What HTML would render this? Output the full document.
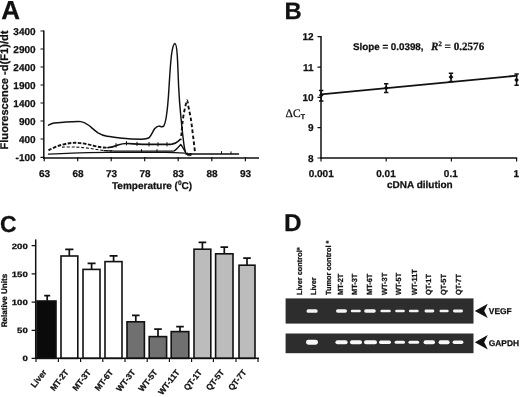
<!DOCTYPE html>
<html>
<head>
<meta charset="utf-8">
<title>Figure</title>
<style>
html,body{margin:0;padding:0;background:#fff;}
body{width:520px;height:397px;overflow:hidden;}
svg{display:block;}
text{font-family:"Liberation Sans",Arial,sans-serif;font-weight:bold;fill:#111;text-rendering:geometricPrecision;stroke:#111;stroke-width:0.25px;}
.pl{font-size:25.5px;}
.t10{font-size:10px;}
.t8{font-size:7.7px;}
.ser{font-family:"Liberation Serif","Times New Roman",serif;}
</style>
</head>
<body>
<svg width="520" height="397" viewBox="0 0 520 397">
<rect width="520" height="397" fill="#fff"/>

<!-- ================= Panel A ================= -->
<g id="panelA">
<text class="pl" x="1.2" y="19.3" style="font-size:26px">A</text>
<!-- axes -->
<g stroke="#111" stroke-width="1.5" fill="none">
<path d="M43.8 30.5V158.4"/>
<path d="M43 157.9H259"/>
</g>
<g stroke="#111" stroke-width="1.2" fill="none">
<path d="M40.5 31H44M40.5 49H44M40.5 67H44M40.5 85H44M40.5 103H44M40.5 121H44M40.5 139H44M40.5 157.4H44"/>
<path d="M44.2 157V161.2M77.7 157V161.2M111.2 157V161.2M144.7 157V161.2M178.2 157V161.2M211.8 157V161.2M245.4 157V161.2"/>
</g>
<g class="t10" text-anchor="end">
<text x="35.6" y="34.5">3400</text>
<text x="35.6" y="52.5">2900</text>
<text x="35.6" y="70.5">2400</text>
<text x="35.6" y="88.5">1900</text>
<text x="35.6" y="106.5">1400</text>
<text x="35.6" y="124.5">900</text>
<text x="35.6" y="142.5">400</text>
<text x="35.6" y="160.8">-100</text>
</g>
<g class="t10" text-anchor="middle">
<text x="44.5" y="177.3">63</text>
<text x="78" y="177.3">68</text>
<text x="111.5" y="177.3">73</text>
<text x="145" y="177.3">78</text>
<text x="178.3" y="177.3">83</text>
<text x="212" y="177.3">88</text>
<text x="245.6" y="177.3">93</text>
</g>
<text class="t10" x="112" y="188.8" style="font-size:10px">Temperature (<tspan dy="-3.8" style="font-size:6.5px">0</tspan><tspan dy="3.8">C)</tspan></text>
<text class="t10" transform="translate(7.7,90) rotate(-90)" text-anchor="middle" style="font-size:11.1px">Fluorescence -d(F1)/dt</text>

<!-- curves -->
<g fill="none" stroke="#111" stroke-linejoin="round" stroke-linecap="round">
<!-- curve 1 : big solid peak -->
<path stroke-width="1.45" d="M48.5 125.2C50.5 124 52.5 123.2 54 123C58 122.6 62 122.2 66 122C71 121.7 76 121.5 81 121.6C84 122 86.5 123.6 89 125.5C92 128 95 130.8 98 132.8C101 134.6 104 135.8 107 136.3C111 136.9 115 137.4 120 138C128 138.8 136 139.2 141.5 139.2C145 139.2 147.5 138.8 149.2 137.7C151.6 135 153 131 154.6 128.8C156 127.2 157.4 126.2 158.8 126.1C160 126 161 126.9 162 126.8C162.8 126.7 163.3 126.6 163.8 126C164.8 124.2 165.5 121.5 166.1 118C167.3 111 168.3 100 169.1 86C169.8 74 170.6 62 171.6 54C172.5 48 173.6 43.6 174.9 43.5C176 43.6 176.8 48 177.3 56C177.8 64 178.2 76 178.6 86C179.2 98 180 108 180.8 116C181.6 125 182.6 134 183.6 142C184.2 147 185 151.5 186.2 153.6C187.5 155 189 154.2 191 153.8"/>
<!-- baseline after peaks -->
<path stroke-width="1.5" d="M186 154.1C195 153.8 205 154.1 215 154C222 153.8 230 154.1 238.5 153.9"/>
<path stroke-width="1" d="M221.5 153.6V151.6M231 153.6V151.8M187.5 153V155.3C189 156 191 155.8 192 154.5"/>
<!-- curve 2 : heavy dashed then solid -->
<path stroke-width="1.9" stroke-dasharray="3.6 1.5" stroke-linecap="butt" d="M48.5 150.4C52 148.2 57 146.2 62 144.8C67 143.4 72 142.7 76 142.8C82 143 88 144.2 94 145.8C99 147.2 104 147.8 108 147.6"/>
<path stroke-width="1.7" d="M108 147.6C112 147.4 115 146.2 118 145C121 144 124 143.4 127 143.5C134 143.8 142 144.4 150 144.4C158 144.5 166 144.6 172 144.1C175 143.6 177 142.5 178.5 141C179.5 139.8 180.3 139.2 180.8 139.4"/>
<path stroke-width="1" d="M116 147.2V143.6M126.5 145V141.6M137 145.5V142.2M149 146V142.4M158 146V142.6M167 146V142.6"/>
<!-- curve 3 : thin dashed then solid -->
<path stroke-width="1.1" stroke-dasharray="3 1.8" stroke-linecap="butt" d="M62 147.1C66 146.9 72 146.9 76 147.1C84 147.4 92 148.6 100 150C104 150.6 108 150.8 112 150.9"/>
<path stroke-width="1.3" d="M104 150.6C112 151 122 151.1 132 151.1C144 151.2 156 151.2 166 151.1C170 151.1 172.5 151.4 174.3 150.9C176.4 149.6 179 146.4 180.8 144.5C182.2 146 183.6 149.5 185.4 151.8"/>
<path stroke-width="1" d="M141.5 152V149.6M157 152V149.6"/>
<!-- curve 4 : lower solid -->
<path stroke-width="1.3" d="M48.5 154.2C56 153.8 64 153.4 72 153.1C84 152.6 96 152.4 107 152.3C125 152.3 145 152.3 165 152.3C172 152.4 178 152.7 185 153.2"/>
<!-- dashed peak -->
<path stroke-width="1.9" stroke-dasharray="3.6 2.4" stroke-linecap="butt" d="M181.3 136C181.7 130 182.3 122.7 183.8 113.5C184.4 110.5 185.2 107 185.9 104C186.3 101.8 186.7 100.3 187 100.3C187.4 100.3 187.8 102.5 188.5 107C189.2 110.5 189.8 113.2 190.3 115.8C190.8 118.5 191.2 121 191.5 123.5C192 127 192.4 130.5 192.8 134.2C193.2 137 193.5 139.5 193.8 141.9C194.3 146 194.7 149.5 195 152.4"/>
</g>
</g>

<!-- ================= Panel B ================= -->
<g id="panelB">
<text class="pl" x="284.4" y="18.8" style="font-size:23.8px">B</text>
<g stroke="#111" stroke-width="1.5" fill="none">
<path d="M321 36V158.8"/>
<path d="M320.3 158H517.2"/>
</g>
<g stroke="#111" stroke-width="1.2" fill="none">
<path d="M317.5 36.6H321M317.5 67.2H321M317.5 97.4H321M317.5 127.6H321M317.5 158H321"/>
<path d="M321 158V161.4M386.2 158V161.4M451.4 158V161.4M516.6 158V161.4"/>
</g>
<g class="t10" text-anchor="end">
<text x="313.5" y="40.2">12</text>
<text x="313.5" y="70.8">11</text>
<text x="313.5" y="101">10</text>
<text x="313.5" y="131.2">9</text>
<text x="313.5" y="161.6">8</text>
</g>
<g class="t10" text-anchor="middle">
<text x="321.2" y="177.2">0.001</text>
<text x="386" y="177.2">0.01</text>
<text x="450.8" y="177.2">0.1</text>
<text x="516.2" y="177.2">1</text>
</g>
<text x="387" y="187.6" style="font-size:10px">cDNA dilution</text>
<text x="353" y="49.8" style="font-size:9.8px">Slope = 0.0398,</text>
<text class="ser" x="431" y="49.8" style="font-size:11.1px"><tspan style="font-style:italic">R</tspan><tspan dy="-4" style="font-size:6.8px">2</tspan><tspan dy="4"> = 0.2576</tspan></text>
<text class="ser" x="285.6" y="117.2" style="font-size:11.5px;font-weight:normal">ΔC<tspan dy="1.8" style="font-size:7px;font-weight:bold;font-family:'Liberation Sans',Arial,sans-serif">T</tspan></text>
<!-- regression line -->
<path d="M321 94.4L517.5 75.6" stroke="#111" stroke-width="1.8" fill="none"/>
<!-- points with error bars -->
<g stroke="#111" stroke-width="1.5" fill="#111">
<path d="M321.2 90.6V101M319 90.6H323.4M319 101H323.4"/>
<path d="M386.2 83.8V92.4M384 83.8H388.4M384 92.4H388.4"/>
<path d="M451 73.2V81.6M448.8 73.2H453.2M448.8 81.6H453.2"/>
<path d="M516.6 74V85.2M514.4 74H518.8M514.4 85.2H518.8"/>
<path stroke="none" d="M321.2 92.6l2.3 2.6-2.3 2.6-2.3-2.6zM386.2 85.4l2.3 2.6-2.3 2.6-2.3-2.6zM451 74.4l2.4 2.7-2.4 2.7-2.4-2.7zM516.6 77.4l2.3 2.6-2.3 2.6-2.3-2.6z"/>
</g>
</g>

<!-- ================= Panel C ================= -->
<g id="panelC">
<text class="pl" x="0" y="231.5" style="font-size:23px">C</text>
<!-- bars -->
<g stroke="#111" stroke-width="1.6">
<rect x="37" y="301.0" width="19" height="57.4" fill="#0a0a0a"/>
<rect x="61" y="256.0" width="16.8" height="102.4" fill="#fff"/>
<rect x="83" y="269.4" width="17" height="89.0" fill="#fff"/>
<rect x="105" y="261.6" width="17" height="96.8" fill="#fff"/>
<rect x="127" y="321.8" width="17.4" height="36.6" fill="#707070"/>
<rect x="149.2" y="336.6" width="17.4" height="21.8" fill="#707070"/>
<rect x="171.2" y="331.6" width="17.6" height="26.8" fill="#707070"/>
<rect x="194" y="249.2" width="16.8" height="109.2" fill="#bcbcbc"/>
<rect x="215.6" y="253.8" width="17.4" height="104.6" fill="#bcbcbc"/>
<rect x="239" y="265.2" width="16" height="93.2" fill="#bcbcbc"/>
</g>
<!-- error bars -->
<g stroke="#111" stroke-width="1.7" fill="none">
<path d="M47.2 301V295.6M44.2 295.6H50.2"/>
<path d="M69.3 256V249.4M65.2 249.4H73.4"/>
<path d="M91.6 269.4V263.4M87.6 263.4H95.6"/>
<path d="M113.6 261.6V255.8M109.6 255.8H117.6"/>
<path d="M135.8 321.8V315.4M132 315.4H139.6"/>
<path d="M158 336.6V329.2M154.2 329.2H161.8"/>
<path d="M180 331.6V326.6M176.2 326.6H183.8"/>
<path d="M202.4 249.2V242.4M198.6 242.4H206.2"/>
<path d="M224.3 253.8V247.2M220.5 247.2H228.1"/>
<path d="M247 265.2V258.2M243.2 258.2H250.8"/>
</g>
<!-- axes -->
<g stroke="#111" stroke-width="1.5" fill="none">
<path d="M35.7 239.4V359"/>
<path d="M35 358.3H259"/>
</g>
<g stroke="#111" stroke-width="1.2" fill="none">
<path d="M31.6 245.6H35.7M31.6 273.9H35.7M31.6 302.1H35.7M31.6 330.4H35.7M31.6 358.3H35.7"/>
<path d="M36 358V362M58.4 358V362M80.6 358V362M102.8 358V362M125 358V362M147.2 358V362M169.4 358V362M191.6 358V362M213.4 358V362M236 358V362M258 358V362"/>
</g>
<g class="t8" text-anchor="end">
<text transform="translate(27.8,248.6) scale(1.25,1)">200</text>
<text transform="translate(27.8,276.8) scale(1.25,1)">150</text>
<text transform="translate(27.8,305.1) scale(1.25,1)">100</text>
<text transform="translate(27.8,333.4) scale(1.25,1)">50</text>
<text transform="translate(27.8,361.4) scale(1.25,1)">0</text>
</g>
<text transform="translate(7.2,300.5) rotate(-90)" text-anchor="middle" style="font-size:8.1px">Relative Units</text>
<g class="t8" text-anchor="end" style="font-size:8.4px">
<text transform="translate(47.1,372.4) rotate(-52)">Liver</text>
<text transform="translate(69.1,372.4) rotate(-52)">MT-2T</text>
<text transform="translate(91.3,372.4) rotate(-52)">MT-3T</text>
<text transform="translate(113.6,372.4) rotate(-52)">MT-6T</text>
<text transform="translate(135.8,372.4) rotate(-52)">WT-3T</text>
<text transform="translate(158.0,372.4) rotate(-52)">WT-5T</text>
<text transform="translate(180.2,372.4) rotate(-52)">WT-11T</text>
<text transform="translate(202.4,372.4) rotate(-52)">QT-1T</text>
<text transform="translate(224.6,372.4) rotate(-52)">QT-5T</text>
<text transform="translate(246.8,372.4) rotate(-52)">QT-7T</text>
</g>
</g>

<!-- ================= Panel D ================= -->
<g id="panelD">
<text class="pl" x="283.9" y="231.1" style="font-size:24.3px">D</text>
<g style="font-size:7.4px">
<text transform="translate(301.8,295) rotate(-90)">Liver control*</text>
<text transform="translate(315.6,295) rotate(-90)">Liver</text>
<text transform="translate(330.6,295) rotate(-90)">Tumor control *</text>
<text transform="translate(343.4,295) rotate(-90)">MT-2T</text>
<text transform="translate(357.2,295) rotate(-90)">MT-3T</text>
<text transform="translate(371.6,295) rotate(-90)">MT-6T</text>
<text transform="translate(387.2,295) rotate(-90)">WT-3T</text>
<text transform="translate(401.4,295) rotate(-90)">WT-5T</text>
<text transform="translate(416.6,295) rotate(-90)">WT-11T</text>
<text transform="translate(430.8,295) rotate(-90)">QT-1T</text>
<text transform="translate(446,295) rotate(-90)">QT-5T</text>
<text transform="translate(461,295) rotate(-90)">QT-7T</text>
</g>
<rect x="285.6" y="298.4" width="187.9" height="25.2" fill="#2d2d2d"/>
<rect x="285.6" y="333.5" width="187.9" height="19.7" fill="#2d2d2d"/>
<!-- VEGF bands -->
<g fill="#f4f4f4">
<rect x="306.5" y="309.15" width="11.2" height="3.70" rx="1.85"/>
<rect x="336" y="309.25" width="11" height="3.50" rx="1.75"/>
<rect x="350.8" y="309.80" width="10" height="2.40" rx="1.20"/>
<rect x="364.2" y="309.35" width="11.6" height="3.30" rx="1.65"/>
<rect x="380.4" y="309.65" width="10.4" height="2.70" rx="1.35"/>
<rect x="395.2" y="309.75" width="9.6" height="2.50" rx="1.25"/>
<rect x="408.9" y="309.75" width="9.8" height="2.50" rx="1.25"/>
<rect x="424.5" y="309.55" width="9.8" height="2.90" rx="1.45"/>
<rect x="439.5" y="309.75" width="9.2" height="2.50" rx="1.25"/>
<rect x="453" y="309.55" width="10" height="2.90" rx="1.45"/>
</g>
<!-- GAPDH bands -->
<g fill="#f8f8f8">
<rect x="306" y="339.75" width="12" height="4.90" rx="2.45"/>
<rect x="335.4" y="340.15" width="12.2" height="4.10" rx="2.05"/>
<rect x="350" y="340.25" width="12" height="3.90" rx="1.95"/>
<rect x="364" y="340.15" width="13" height="4.10" rx="2.05"/>
<rect x="379" y="340.45" width="12" height="3.50" rx="1.75"/>
<rect x="394.6" y="340.70" width="10.4" height="3.00" rx="1.50"/>
<rect x="408.4" y="340.65" width="10.8" height="3.10" rx="1.55"/>
<rect x="423.6" y="340.25" width="11.4" height="3.90" rx="1.95"/>
<rect x="438.6" y="340.25" width="11" height="3.90" rx="1.95"/>
<rect x="452.6" y="340.45" width="10.8" height="3.50" rx="1.75"/>
</g>
<!-- arrows -->
<path d="M474.8 310.9L487.8 303.7L484.2 310.9L487.8 318.1Z" fill="#111"/>
<path d="M474.8 342.3L487.8 335.1L484.2 342.3L487.8 349.5Z" fill="#111"/>
<text x="488.8" y="314.4" style="font-size:8.4px">VEGF</text>
<text x="488.8" y="345.8" style="font-size:8.4px">GAPDH</text>
</g>
</svg>
</body>
</html>
